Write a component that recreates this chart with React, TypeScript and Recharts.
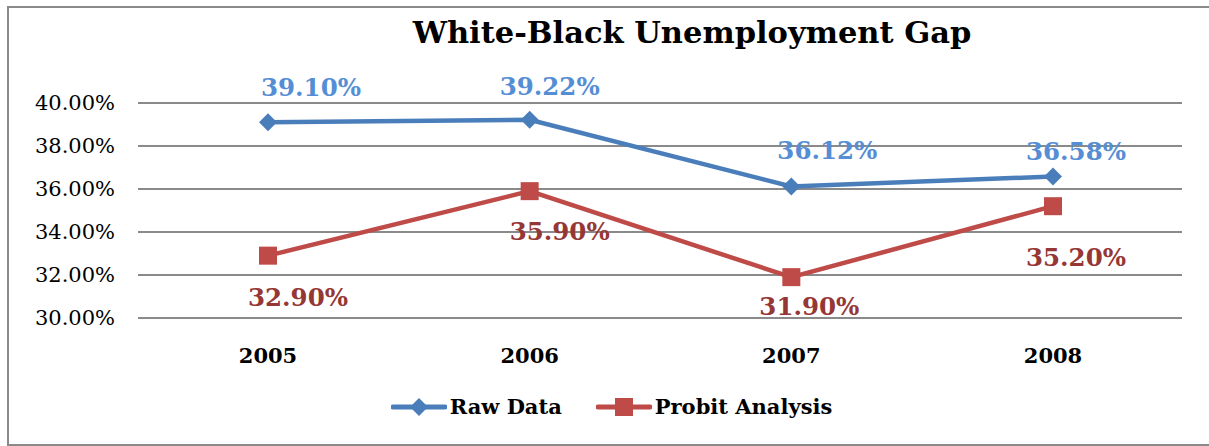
import React from 'react';
import { LineChart, Line, XAxis, YAxis, CartesianGrid, LabelList } from 'recharts';

const years = ['2005', '2006', '2007', '2008'];
const rawData = [39.1, 39.22, 36.12, 36.58];
const probitData = [32.9, 35.9, 31.9, 35.2];
const yTicks = [30, 32, 34, 36, 38, 40];

const chartData = years.map((year, i) => ({ year, raw: rawData[i], probit: probitData[i] }));

// label nudges relative to each point (the labels were dragged by hand in the original)
const rawLabelShift = [
  [43, -35],
  [20, -33],
  [36, -36],
  [23, -25],
];
const probitLabelShift = [
  [30, 42],
  [30, 40],
  [18, 29],
  [23, 51],
];

const FONT = '"DejaVu Serif", serif';
const BLUE = '#4A7EBB';
const RED = '#BE4B48';

const Diamond = (props: any) => {
  const { cx, cy } = props;
  if (cx == null || cy == null) return null;
  const r = 9;
  return <path d={`M${cx},${cy - r}L${cx + r},${cy}L${cx},${cy + r}L${cx - r},${cy}Z`} fill={BLUE} />;
};

const Square = (props: any) => {
  const { cx, cy } = props;
  if (cx == null || cy == null) return null;
  const s = 9;
  return <rect x={cx - s} y={cy - s} width={s * 2} height={s * 2} fill={RED} />;
};

const makeLabel = (shifts: number[][], color: string) => (props: any) => {
  const { x, y, value, index } = props;
  const [dx, dy] = shifts[index] || [0, 0];
  return (
    <text
      x={x + dx}
      y={y + dy}
      textAnchor="middle"
      dominantBaseline="central"
      fill={color}
      fontFamily={FONT}
      fontWeight="bold"
      fontSize={24.5}
    >
      {value.toFixed(2)}%
    </text>
  );
};

function ChartLegend() {
  return (
    <div
      style={{
        position: 'absolute',
        top: 394,
        left: 0,
        width: 1209,
        display: 'flex',
        justifyContent: 'center',
        alignItems: 'center',
        fontFamily: FONT,
        fontWeight: 'bold',
        fontSize: 21,
        color: '#000',
        paddingLeft: 14,
        boxSizing: 'border-box',
      }}
    >
      <svg width={56} height={24}>
        <line x1={2} y1={12} x2={54} y2={12} stroke={BLUE} strokeWidth={5} strokeLinecap="round" />
        <path d="M28,3L37,12L28,21L19,12Z" fill={BLUE} />
      </svg>
      <span style={{ marginLeft: 3, marginRight: 34 }}>Raw Data</span>
      <svg width={56} height={24}>
        <line x1={2} y1={12} x2={54} y2={12} stroke={RED} strokeWidth={5} strokeLinecap="round" />
        <rect x={19} y={3} width={18} height={18} fill={RED} />
      </svg>
      <span style={{ marginLeft: 3 }}>Probit Analysis</span>
    </div>
  );
}

export default function App() {
  return (
    <div
      style={{
        position: 'absolute',
        left: 0,
        top: 0,
        width: 1209,
        height: 446,
        background: '#fff',
        overflow: 'hidden',
      }}
    >
      <div
        style={{
          position: 'absolute',
          left: 7,
          top: 6,
          width: 1220,
          height: 436,
          border: '2px solid #8a8a8a',
        }}
      />
      <div
        style={{
          position: 'absolute',
          top: 14,
          left: 0,
          width: 1209,
          paddingLeft: 175,
          boxSizing: 'border-box',
          textAlign: 'center',
          fontFamily: FONT,
          fontWeight: 'bold',
          fontSize: 30.5,
          color: '#000',
        }}
      >
        White-Black Unemployment Gap
      </div>
      <div style={{ position: 'absolute', left: 0, top: 0 }}>
        <LineChart width={1209} height={446} data={chartData} margin={{ top: 103, right: 27, bottom: 88, left: 0 }}>
          <CartesianGrid vertical={false} stroke="#8a8a8a" strokeWidth={2} />
          <XAxis
            dataKey="year"
            padding={{ left: 130, right: 129 }}
            axisLine={{ stroke: '#8a8a8a', strokeWidth: 2 }}
            tickLine={false}
            tick={{ fill: '#000', fontFamily: FONT, fontWeight: 'bold', fontSize: 21 }}
            tickMargin={24}
            height={40}
          />
          <YAxis
            domain={[30, 40]}
            ticks={yTicks}
            width={138}
            axisLine={false}
            tickLine={false}
            tickMargin={17}
            tick={{ fill: '#000', fontFamily: FONT, fontSize: 21 }}
            tickFormatter={(v: number) => `${v.toFixed(2)}%`}
          />
          <Line
            dataKey="raw"
            stroke={BLUE}
            strokeWidth={4.5}
            dot={<Diamond />}
            activeDot={false}
            isAnimationActive={false}
          >
            <LabelList dataKey="raw" content={makeLabel(rawLabelShift, '#558ED5')} />
          </Line>
          <Line
            dataKey="probit"
            stroke={RED}
            strokeWidth={4.5}
            dot={<Square />}
            activeDot={false}
            isAnimationActive={false}
          >
            <LabelList dataKey="probit" content={makeLabel(probitLabelShift, '#953735')} />
          </Line>
        </LineChart>
      </div>
      <ChartLegend />
    </div>
  );
}
